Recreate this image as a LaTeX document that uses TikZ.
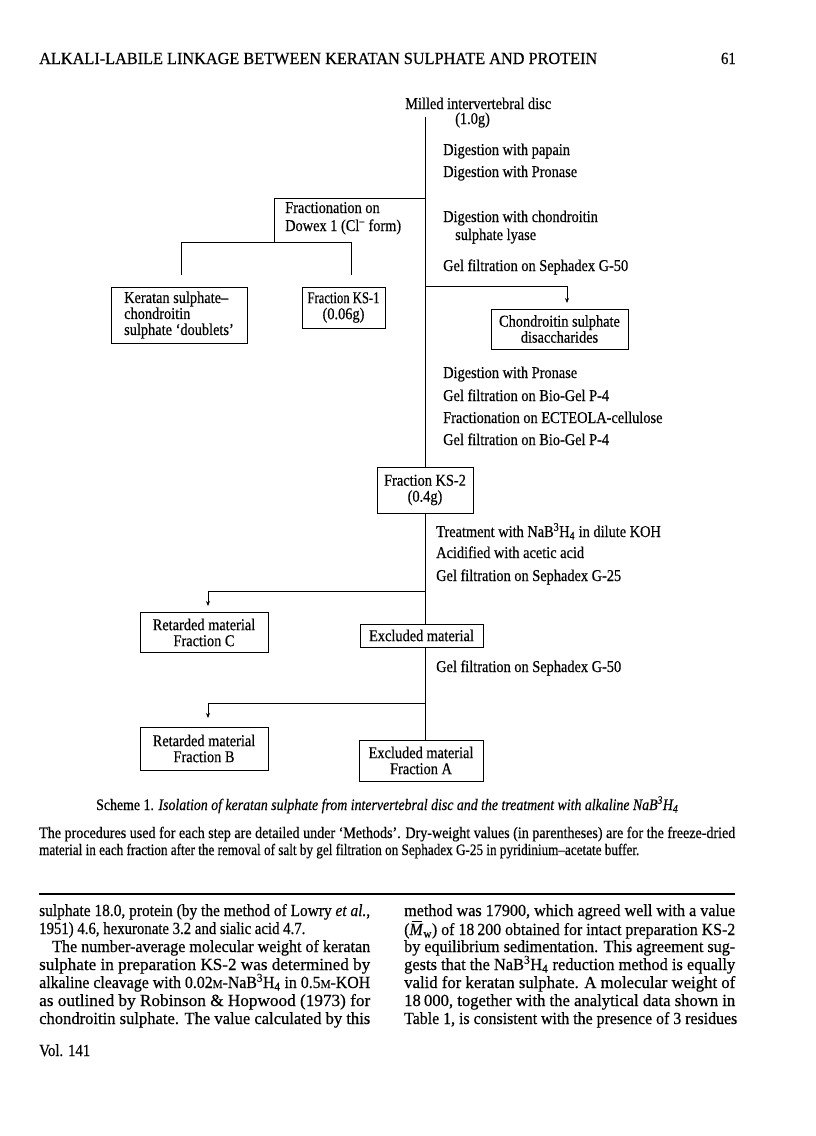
\documentclass[tikz,border=0pt]{standalone}
\usepackage{fontspec}
\setmainfont{Liberation Serif}[FakeStretch=0.87,FakeBold=0.4]
\usepackage{graphicx}
\usetikzlibrary{arrows.meta}
\newcommand\fitw[2]{\resizebox{#1}{\height}{#2}}
\newcommand\smM{{\fontsize{12pt}{12pt}\selectfont M}}
\newcommand\nab{NaB\textsuperscript{3}H\textsubscript{4}}
\newcommand\mbarw{\textit{M}\llap{\rule[0.74em]{0.55em}{0.06em}\kern0.08em}\textsubscript{w}}
\newcommand\dfont{\fontsize{16.5pt}{16pt}\selectfont}
\newcommand\bfont{\fontsize{17pt}{18pt}\selectfont}
\newcommand\cfont{\fontsize{16pt}{17pt}\selectfont}
\begin{document}
\begin{tikzpicture}[x=1pt,y=-1pt,
  ln/.style={line width=1pt},
  arr/.style={line width=1pt,-{Stealth[length=5pt,width=4pt]}},
  bx/.style={draw,line width=1pt,inner sep=0pt,align=center,font=\dfont},
  lbl/.style={anchor=base west,inner sep=0pt,font=\dfont},
  body/.style={anchor=base west,inner sep=0pt,font=\bfont}]
\useasboundingbox (0,0) rectangle (816,1136);
\fill[white] (0,0) rectangle (816,1136);

% header
\node[body] (hdr) at (39,64) {\fitw{558pt}{ALKALI-LABILE LINKAGE BETWEEN KERATAN SULPHATE AND PROTEIN}};
\node[body,anchor=base east] (pg) at (736,64) {61};

% diagram labels
\node[lbl] (milled) at (405,109) {Milled intervertebral disc};
\node[lbl] (mass) at (455,124) {(1.0g)};
\node[lbl] (s1) at (443,155) {Digestion with papain};
\node[lbl] (s2) at (443,177) {Digestion with Pronase};
\node[lbl] (f1) at (285,213) {Fractionation on};
\node[lbl] (f2) at (285,231) {Dowex 1 (Cl\textsuperscript{–} form)};
\node[lbl] (s3) at (443,222) {Digestion with chondroitin};
\node[lbl] (s3b) at (455,240) {sulphate lyase};
\node[lbl] (s4) at (443,271) {Gel filtration on Sephadex G-50};
\node[lbl] (s5) at (443,378) {Digestion with Pronase};
\node[lbl] (s6) at (443,401) {Gel filtration on Bio-Gel P-4};
\node[lbl] (s7) at (443,423) {Fractionation on ECTEOLA-cellulose};
\node[lbl] (s8) at (443,445) {Gel filtration on Bio-Gel P-4};
\node[lbl] (s9) at (436,537) {Treatment with \nab{} in dilute KOH};
\node[lbl] (s10) at (436,558) {Acidified with acetic acid};
\node[lbl] (s11) at (436,581) {Gel filtration on Sephadex G-25};
\node[lbl] (s12) at (436,672) {Gel filtration on Sephadex G-50};

% boxes
\node[bx,align=left,minimum width=136pt,minimum height=56pt] (dbl) at (179,315) {Keratan sulphate–\\chondroitin\\sulphate ‘doublets’};
\node[bx,minimum width=83pt,minimum height=41pt] (ks1) at (343.5,307.5) {\fitw{72pt}{Fraction KS-1}\\(0.06g)};
\node[bx,minimum width=137pt,minimum height=40pt] (cds) at (559.5,329) {Chondroitin sulphate\\disaccharides};
\node[bx,minimum width=96pt,minimum height=46pt] (ks2) at (425,490) {Fraction KS-2\\(0.4g)};
\node[bx,minimum width=128pt,minimum height=40pt] (frc) at (204,632.5) {Retarded material\\Fraction C};
\node[bx,minimum width=123pt,minimum height=23pt] (exc) at (421.5,635.5) {Excluded material};
\node[bx,minimum width=128pt,minimum height=43pt] (frb) at (204,748.5) {Retarded material\\Fraction B};
\node[bx,minimum width=124pt,minimum height=41pt] (fra) at (421,760.5) {Excluded material\\Fraction A};

% connectors
\coordinate (top) at (425,117);
\coordinate (j1) at (425,198);
\coordinate (j2) at (425,286);
\coordinate (fc) at (274,198);
\coordinate (fb) at (274,242);
\coordinate (bl) at (181,242);
\coordinate (br) at (351,242);
\coordinate (bl2) at (181,275);
\coordinate (br2) at (351,275);
\coordinate (a1) at (567,286);
\coordinate (a1e) at (567,303);
\coordinate (j3) at (425,591);
\coordinate (c3) at (208,591);
\coordinate (c3e) at (208,606);
\coordinate (j4) at (425,703);
\coordinate (c4) at (208,703);
\coordinate (c4e) at (208,718);

\draw[ln] (top) -- (ks2.north);
\draw[ln] (j1) -- (fc) -- (fb);
\draw[ln] (bl2) -- (bl) -- (br) -- (br2);
\draw[arr] (j2) -- (a1) -- (a1e);
\draw[ln] (ks2.south) -- (ks2.south |- exc.north);
\draw[arr] (j3) -- (c3) -- (c3e);
\draw[ln] (ks2.south |- exc.south) -- (ks2.south |- fra.north);
\draw[arr] (j4) -- (c4) -- (c4e);

% caption
\node[body] (cap) at (96,810) {\fitw{582pt}{\cfont Scheme 1. \textit{Isolation of keratan sulphate from intervertebral disc and the treatment with alkaline NaB\textsuperscript{3}H\textsubscript{4}}}};
\node[body] (p1) at (39,838) {\fitw{696pt}{\cfont The procedures used for each step are detailed under ‘Methods’. Dry-weight values (in parentheses) are for the freeze-dried}};
\node[body] (p2) at (39,855) {\fitw{600pt}{\cfont material in each fraction after the removal of salt by gel filtration on Sephadex G-25 in pyridinium–acetate buffer.}};

\draw[line width=1.3pt] (39,894) -- (735,894);

% body left column
\node[body] (l1) at (39,916) {\fitw{331pt}{sulphate 18.0, protein (by the method of Lowry \textit{et al.},}};
\node[body] (l2) at (39,934) {1951) 4.6, hexuronate 3.2 and sialic acid 4.7.};
\node[body] (l3) at (52,952) {\fitw{318pt}{The number-average molecular weight of keratan}};
\node[body] (l4) at (39,970) {\fitw{331pt}{sulphate in preparation KS-2 was determined by}};
\node[body] (l5) at (39,988) {\fitw{331pt}{alkaline cleavage with 0.02\smM-\nab{} in 0.5\smM-KOH}};
\node[body] (l6) at (39,1006) {\fitw{331pt}{as outlined by Robinson \& Hopwood (1973) for}};
\node[body] (l7) at (39,1024) {\fitw{331pt}{chondroitin sulphate. The value calculated by this}};
\node[body] (vol) at (39,1056) {Vol. 141};

% body right column
\node[body] (r1) at (404,916) {\fitw{331pt}{method was 17900, which agreed well with a value}};
\node[body] (r2) at (404,935) {\fitw{331pt}{(\mbarw) of 18\,200 obtained for intact preparation KS-2}};
\node[body] (r3) at (404,952) {\fitw{331pt}{by equilibrium sedimentation. This agreement sug-}};
\node[body] (r4) at (404,970) {\fitw{331pt}{gests that the \nab{} reduction method is equally}};
\node[body] (r5) at (404,988) {\fitw{331pt}{valid for keratan sulphate. A molecular weight of}};
\node[body] (r6) at (404,1006) {\fitw{331pt}{18\,000, together with the analytical data shown in}};
\node[body] (r7) at (404,1024) {\fitw{333pt}{Table 1, is consistent with the presence of 3 residues}};
\end{tikzpicture}
\end{document}
